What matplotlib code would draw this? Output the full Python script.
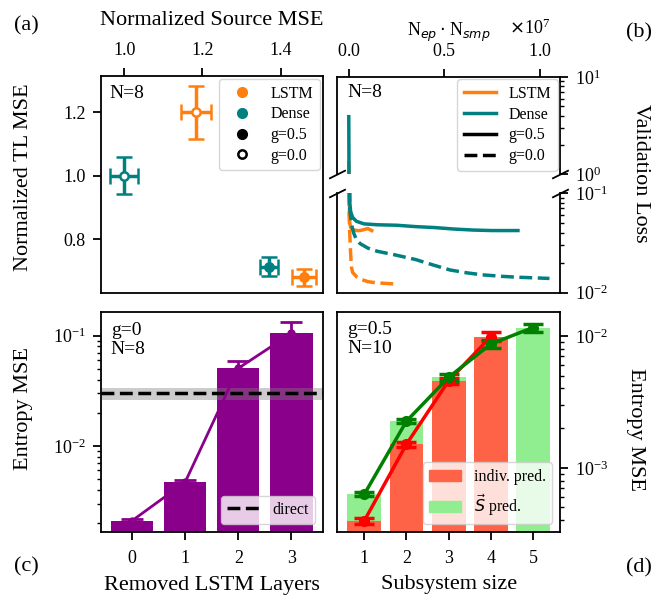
import matplotlib
matplotlib.use("Agg")
import matplotlib.pyplot as plt
from matplotlib.lines import Line2D
from matplotlib.patches import Patch
from matplotlib.ticker import NullFormatter, ScalarFormatter

plt.rcParams['font.family'] = 'serif'
plt.rcParams['font.serif'] = ['Liberation Serif', 'DejaVu Serif']
plt.rcParams['axes.linewidth'] = 1.3
plt.rcParams['xtick.major.width'] = 1.3
plt.rcParams['ytick.major.width'] = 1.3
plt.rcParams['xtick.minor.width'] = 1.0
plt.rcParams['ytick.minor.width'] = 1.0
plt.rcParams['xtick.major.size'] = 6
plt.rcParams['ytick.major.size'] = 6
plt.rcParams['ytick.minor.size'] = 3.0
plt.rcParams['xtick.major.pad'] = 6.5
plt.rcParams['ytick.major.pad'] = 5
plt.rcParams['xtick.labelsize'] = 13
plt.rcParams['ytick.labelsize'] = 13
plt.rcParams['legend.fontsize'] = 11.5

ORANGE = '#ff7f0e'
TEAL = '#008080'
PURPLE = '#8b008b'

# ---- (a) transfer learning vs source MSE ----
a_model = ['LSTM', 'LSTM', 'Dense', 'Dense']
a_g = [0.0, 0.5, 0.0, 0.5]
a_src = [1.183, 1.459, 1.000, 1.370]
a_src_err = [0.038, 0.031, 0.036, 0.024]
a_tl = [1.200, 0.680, 1.000, 0.714]
a_tl_err = [0.084, 0.028, 0.058, 0.031]

# ---- (b) validation loss curves ----
lstm05_x = [0, 2e4, 5e4, 1e5, 2e5, 4e5, 6e5, 8e5, 1e6, 1.2e6]
lstm05_y = [1.3, 0.15, 0.05, 0.045, 0.043, 0.042, 0.042, 0.043, 0.044, 0.042]
lstm00_x = [0, 2e4, 5e4, 1e5, 1.4e5, 2e5, 4e5, 7e5, 1e6, 1.4e6, 1.9e6, 2.2e6, 2.5e6]
lstm00_y = [0.1, 0.06, 0.04, 0.024, 0.018, 0.016, 0.0145, 0.0135, 0.0129, 0.0126, 0.0124, 0.0123, 0.0122]
dense05_x = [0, 2e4, 5e4, 1e5, 2e5, 4e5, 8e5, 1.5e6, 2.5e6, 3.5e6, 4.5e6, 5.5e6, 6.5e6, 7.5e6, 8.85e6]
dense05_y = [3.9, 0.5, 0.08, 0.065, 0.057, 0.052, 0.049, 0.048, 0.0475, 0.046, 0.045, 0.0435, 0.0425, 0.042, 0.042]
dense00_x = [0, 5e4, 1.5e5, 2.5e5, 4e5, 6e5, 1e6, 1.5e6, 2.4e6, 3.5e6, 4.4e6, 5.3e6, 6.2e6, 7e6, 8e6, 8.8e6, 9.7e6, 1.05e7]
dense00_y = [0.6, 0.07, 0.048, 0.04, 0.034, 0.031, 0.028, 0.026, 0.024, 0.0215, 0.019, 0.0169, 0.0158, 0.0151, 0.0146, 0.0143, 0.0141, 0.0139]

# ---- (c) removed LSTM layers ----
c_layers = [0, 1, 2, 3]
c_mse = [0.0021, 0.0047, 0.0506, 0.105]
c_err = [0.00006, 0.00025, 0.0085, 0.027]
direct_mse = 0.030
direct_err = 0.0038

# ---- (d) subsystem size ----
d_size = [1, 2, 3, 4, 5]
indiv_mse = [0.000396, 0.00151, 0.00458, 0.0099]
indiv_err = [0.00002, 0.00007, 0.00025, 0.0008]
svec_mse = [0.00063, 0.00226, 0.00486, 0.0087, 0.0116]
svec_err = [0.00002, 0.00008, 0.0003, 0.0006, 0.0008]

W, H = 655, 595
fig = plt.figure(figsize=(W / 100, H / 100), dpi=100)


def box(left, top, right, bottom):
    # pixel box -> figure fractions
    return [left / W, 1 - bottom / H, (right - left) / W, (bottom - top) / H]


ax_a = fig.add_axes(box(100.7, 76, 322.7, 293))
ax_bt = fig.add_axes(box(337.3, 77, 560, 174))
ax_bb = fig.add_axes(box(337.3, 193, 560, 292.7), sharex=ax_bt)
ax_c = fig.add_axes(box(100.7, 311.7, 322.7, 532.3))
ax_d = fig.add_axes(box(337.3, 311.7, 560, 532.3))

# (a)
colors = {'LSTM': ORANGE, 'Dense': TEAL}
for m, g, x, xe, y, ye in zip(a_model, a_g, a_src, a_src_err, a_tl, a_tl_err):
    c = colors[m]
    face = c if g > 0 else 'white'
    ax_a.errorbar(x, y, xerr=xe, yerr=ye, fmt='o', color=c, mfc=face, mec=c,
                  ms=6, mew=1.8, elinewidth=2.5, capsize=6, capthick=2.5)
ax_a.set_xlim(0.94, 1.507)
ax_a.set_ylim(0.631, 1.314)
ax_a.set_xticks([1.0, 1.2, 1.4])
ax_a.set_yticks([0.8, 1.0, 1.2])
ax_a.xaxis.tick_top()
ax_a.xaxis.set_label_position('top')
ax_a.set_xlabel('Normalized Source MSE', fontsize=16, labelpad=12)
ax_a.set_ylabel('Normalized TL MSE', fontsize=16)
ax_a.yaxis.set_label_coords(-0.305, 0.536)
ax_a.text(0.04, 0.96, 'N=8', transform=ax_a.transAxes, ha='left', va='top', fontsize=14)
a_handles = [
    Line2D([], [], ls='none', marker='o', color=ORANGE, ms=7),
    Line2D([], [], ls='none', marker='o', color=TEAL, ms=7),
    Line2D([], [], ls='none', marker='o', color='k', ms=7),
    Line2D([], [], ls='none', marker='o', mfc='white', mec='k', mew=1.8, ms=6),
]
ax_a.legend(a_handles, ['LSTM', 'Dense', 'g=0.5', 'g=0.0'], loc='upper right',
            labelspacing=0.3, borderaxespad=0.2)

# (b) broken axis
for ax in (ax_bt, ax_bb):
    ax.plot(lstm05_x, lstm05_y, color=ORANGE, lw=2.5)
    ax.plot(lstm00_x, lstm00_y, color=ORANGE, lw=2.5, ls='--')
    ax.plot(dense05_x, dense05_y, color=TEAL, lw=2.5)
    ax.plot(dense00_x, dense00_y, color=TEAL, lw=2.5, ls='--')
    ax.set_yscale('log')
    ax.yaxis.tick_right()
    ax.yaxis.set_minor_formatter(NullFormatter())
ax_bt.set_ylim(1, 10)
ax_bb.set_ylim(0.01, 0.1)
ax_bt.set_xlim(-0.06e7, 1.105e7)
ax_bt.spines['bottom'].set_visible(False)
ax_bb.spines['top'].set_visible(False)
ax_bt.xaxis.tick_top()
ax_bt.xaxis.set_label_position('top')
ax_bb.tick_params(axis='x', which='both', bottom=False, top=False,
                  labelbottom=False, labeltop=False)
ax_bt.set_xticks([0, 0.5e7, 1.0e7])
fmt = ScalarFormatter(useMathText=True)
ax_bt.xaxis.set_major_formatter(fmt)
ax_bt.xaxis.get_offset_text().set_fontsize(13)
ax_bt.xaxis.get_offset_text().set_x(0.955)
ax_bt.set_xlabel(r'N$_{ep}\cdot$N$_{smp}$', fontsize=13, labelpad=5)
ax_bt.text(0.045, 0.93, 'N=8', transform=ax_bt.transAxes, ha='left', va='top', fontsize=14)
b_handles = [
    Line2D([], [], color=ORANGE, lw=2.5),
    Line2D([], [], color=TEAL, lw=2.5),
    Line2D([], [], color='k', lw=2.5),
    Line2D([], [], color='k', lw=2.5, ls='--'),
]
ax_bt.legend(b_handles, ['LSTM', 'Dense', 'g=0.5', 'g=0.0'], loc='upper right',
             labelspacing=0.3, borderaxespad=0.15)
d = .5
kw = dict(marker=[(-1, -d), (1, d)], markersize=12, linestyle='none',
          color='k', mec='k', mew=1.3, clip_on=False)
ax_bt.plot([0, 1], [0, 0], transform=ax_bt.transAxes, **kw)
ax_bb.plot([0, 1], [1, 1], transform=ax_bb.transAxes, **kw)
fig.text(641 / W, 1 - 173 / H, 'Validation Loss', rotation=270, fontsize=16,
         ha='center', va='center')

# (c)
ax_c.bar(c_layers, c_mse, width=0.8, color=PURPLE)
ax_c.errorbar(c_layers, c_mse, yerr=c_err, color=PURPLE, marker='o', ms=5,
              lw=2, capsize=8, capthick=2)
ax_c.axhspan(direct_mse - direct_err, direct_mse + direct_err, color='grey', alpha=0.4, lw=0)
ax_c.axhline(direct_mse, color='k', ls='--', lw=2.5, label='direct')
ax_c.set_yscale('log')
ax_c.set_ylim(0.00165, 0.165)
ax_c.set_xticks(c_layers)
ax_c.set_xlabel('Removed LSTM Layers', fontsize=16, labelpad=7)
ax_c.set_ylabel('Entropy MSE', fontsize=16)
ax_c.yaxis.set_label_coords(-0.305, 0.56)
ax_c.text(0.045, 0.955, 'g=0\nN=8', transform=ax_c.transAxes, ha='left', va='top', fontsize=14)
ax_c.legend(loc='lower right')

# (d)
ax_d.bar(d_size, svec_mse, width=0.8, color='lightgreen')
ax_d.bar(d_size[:4], indiv_mse, width=0.8, color='tomato')
ax_d.errorbar(d_size[:4], indiv_mse, yerr=indiv_err, color='red', marker='o', ms=7,
              lw=2.5, capsize=7, capthick=2.5)
ax_d.errorbar(d_size, svec_mse, yerr=svec_err, color='green', marker='o', ms=7,
              lw=2.5, capsize=7, capthick=2.5)
ax_d.set_yscale('log')
ax_d.set_ylim(0.000324, 0.0153)
ax_d.set_xticks(d_size)
ax_d.yaxis.tick_right()
ax_d.set_xlabel('Subsystem size', fontsize=16, labelpad=6)
ax_d.text(0.045, 0.96, 'g=0.5\nN=10', transform=ax_d.transAxes, ha='left', va='top', fontsize=14)
ax_d.legend([Patch(color='tomato'), Patch(color='lightgreen')],
            ['indiv. pred.', r'$\vec{S}$ pred.'], loc='lower right')
fig.text(635 / W, 1 - 429 / H, 'Entropy MSE', rotation=270, fontsize=16,
         ha='center', va='center')

# panel letters
fig.text(26 / W, 1 - 26 / H, '(a)', fontsize=16, ha='center', va='center')
fig.text(639 / W, 1 - 33 / H, '(b)', fontsize=16, ha='center', va='center')
fig.text(26 / W, 1 - 567 / H, '(c)', fontsize=16, ha='center', va='center')
fig.text(639 / W, 1 - 568 / H, '(d)', fontsize=16, ha='center', va='center')

fig.savefig('out.png', dpi=100, facecolor='white')
